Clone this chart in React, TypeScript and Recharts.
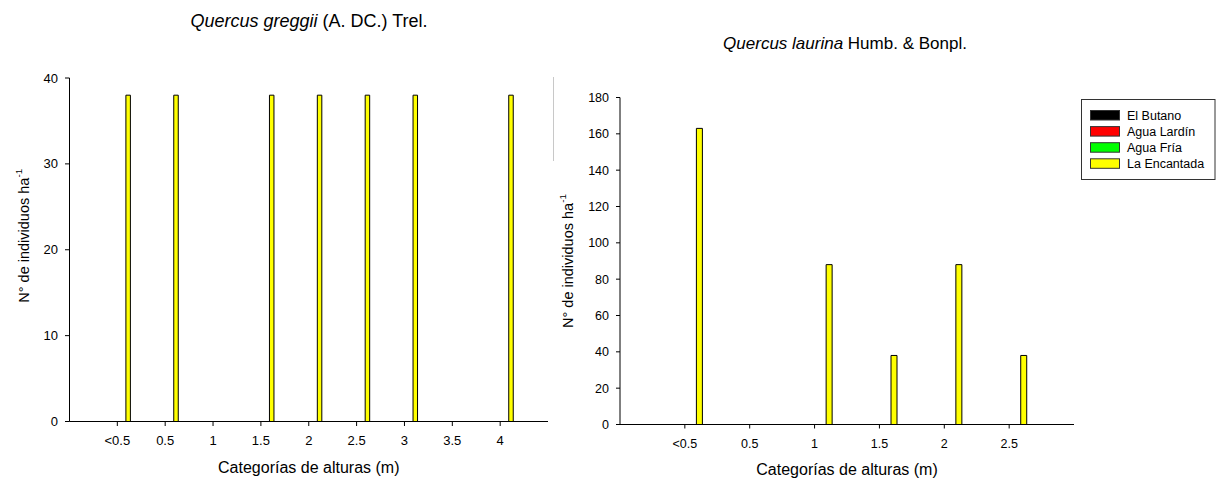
import React from 'react';
import { BarChart, Bar, XAxis, YAxis, Label } from 'recharts';

// Sampling sites (series), fills and data keys
const seriesNames = ['El Butano', 'Agua Lardín', 'Agua Fría', 'La Encantada'];
const seriesColors = ['#000000', '#FF0000', '#00FF00', '#FFFF00'];
const seriesKeys = ['butano', 'lardin', 'fria', 'encantada'];

// Quercus greggii: individuals per ha by height class
const greggiiCategories = ['<0.5', '0.5', '1', '1.5', '2', '2.5', '3', '3.5', '4'];
const greggiiButano = [0, 0, 0, 0, 0, 0, 0, 0, 0];
const greggiiLardin = [0, 0, 0, 0, 0, 0, 0, 0, 0];
const greggiiFria = [0, 0, 0, 0, 0, 0, 0, 0, 0];
const greggiiEncantada = [38, 38, 0, 38, 38, 38, 38, 0, 38];
const greggiiTicks = [0, 10, 20, 30, 40];

// Quercus laurina: individuals per ha by height class
const laurinaCategories = ['<0.5', '0.5', '1', '1.5', '2', '2.5'];
const laurinaButano = [0, 0, 0, 0, 0, 0];
const laurinaLardin = [0, 0, 0, 0, 0, 0];
const laurinaFria = [0, 0, 0, 0, 0, 0];
const laurinaEncantada = [163, 0, 88, 38, 88, 38];
const laurinaTicks = [0, 20, 40, 60, 80, 100, 120, 140, 160, 180];

const FONT = '"Liberation Sans", Arial, Helvetica, sans-serif';

function buildRows(cats: string[], cols: number[][]) {
  return cats.map((c, i) => {
    const row: Record<string, string | number> = { cat: c };
    seriesKeys.forEach((k, j) => {
      row[k] = cols[j][i];
    });
    return row;
  });
}

const greggiiData = buildRows(greggiiCategories, [greggiiButano, greggiiLardin, greggiiFria, greggiiEncantada]);
const laurinaData = buildRows(laurinaCategories, [laurinaButano, laurinaLardin, laurinaFria, laurinaEncantada]);

// Rotated y-axis title with superscript exponent
const makeYTitle = (dx: number, dy: number, size: number) => (props: any) => {
  const vb = props.viewBox || {};
  const x = vb.x + dx;
  const y = vb.y + vb.height / 2 + dy;
  return (
    <text
      x={x}
      y={y}
      transform={`rotate(-90, ${x}, ${y})`}
      textAnchor="middle"
      fontFamily={FONT}
      fontSize={size}
      fill="#000"
    >
      N° de individuos ha
      <tspan fontSize={size * 0.68} dy={-size * 0.45}>-1</tspan>
    </text>
  );
};

const makeXTitle = (dy: number, size: number) => (props: any) => {
  const vb = props.viewBox || {};
  return (
    <text
      x={vb.x + vb.width / 2}
      y={vb.y + dy}
      textAnchor="middle"
      fontFamily={FONT}
      fontSize={size}
      fill="#000"
    >
      Categorías de alturas (m)
    </text>
  );
};

type PanelProps = {
  data: Record<string, string | number>[];
  ticks: number[];
  width: number;
  height: number;
  margin: { top: number; right: number; bottom: number; left: number };
  pad: number;
  barSize: number;
  barGap: number;
  tickFont: number;
  tickSize: number;
  xTickMargin: number;
  yTitle: (p: any) => React.ReactNode;
  xTitle: (p: any) => React.ReactNode;
};

function Panel(p: PanelProps) {
  const axisStyle = { stroke: '#000', strokeWidth: 1 };
  return (
    <BarChart
      width={p.width}
      height={p.height}
      data={p.data}
      margin={p.margin}
      barSize={p.barSize}
      barGap={p.barGap}
      style={{ overflow: 'visible' }}
    >
      <XAxis
        dataKey="cat"
        interval={0}
        height={30}
        padding={{ left: p.pad, right: p.pad }}
        axisLine={axisStyle}
        tickLine={axisStyle}
        tickSize={p.tickSize}
        tickMargin={p.xTickMargin}
        tick={{ fill: '#000', fontSize: p.tickFont, fontFamily: FONT }}
      >
        <Label content={p.xTitle} />
      </XAxis>
      <YAxis
        width={40}
        domain={[p.ticks[0], p.ticks[p.ticks.length - 1]]}
        ticks={p.ticks}
        interval={0}
        axisLine={axisStyle}
        tickLine={axisStyle}
        tickSize={p.tickSize}
        tickMargin={7}
        tick={{ fill: '#000', fontSize: p.tickFont, fontFamily: FONT }}
      >
        <Label content={p.yTitle} />
      </YAxis>
      {seriesKeys.map((k, i) => (
        <Bar
          key={k}
          dataKey={k}
          name={seriesNames[i]}
          fill={seriesColors[i]}
          stroke="#000"
          strokeWidth={1}
          isAnimationActive={false}
        />
      ))}
    </BarChart>
  );
}

export default function App() {
  return (
    <div style={{ position: 'absolute', left: 0, top: 0, width: 1222, height: 479, background: '#fff', overflow: 'hidden' }}>
      <div style={{ position: 'absolute', left: 0, top: 0 }}>
        <Panel
          data={greggiiData}
          ticks={greggiiTicks}
          width={600}
          height={479}
          margin={{ top: 78, right: 52, bottom: 27.5, left: 29.5 }}
          pad={23.9}
          barSize={4.5}
          barGap={3}
          tickFont={13}
          tickSize={4.5}
          xTickMargin={10}
          yTitle={makeYTitle(-1, -14, 14.5)}
          xTitle={makeXTitle(51.5, 16)}
        />
      </div>
      <div style={{ position: 'absolute', left: 530, top: 0 }}>
        <Panel
          data={laurinaData}
          ticks={laurinaTicks}
          width={692}
          height={479}
          margin={{ top: 97.5, right: 148, bottom: 24.5, left: 50 }}
          pad={32.4}
          barSize={6}
          barGap={4}
          tickFont={12.5}
          tickSize={4}
          xTickMargin={11}
          yTitle={makeYTitle(-7, 0, 14.5)}
          xTitle={makeXTitle(50, 16)}
        />
      </div>
      <svg
        width={1222}
        height={479}
        style={{ position: 'absolute', left: 0, top: 0, pointerEvents: 'none' }}
        fontFamily={FONT}
      >
        <text x={309} y={27} textAnchor="middle" fontSize={18} fill="#000">
          <tspan fontStyle="italic">Quercus greggii</tspan> (A. DC.) Trel.
        </text>
        <text x={845} y={49} textAnchor="middle" fontSize={17} fill="#000">
          <tspan fontStyle="italic">Quercus laurina</tspan> Humb. &amp; Bonpl.
        </text>
        <line x1={553.5} y1={77} x2={553.5} y2={161} stroke="#c8c8c8" strokeWidth={1} />
        <rect x={1081.5} y={99.5} width={133.5} height={80} fill="#fff" stroke="#333" strokeWidth={1} />
        {seriesNames.map((name, i) => (
          <g key={name}>
            <rect x={1090.5} y={110.5 + i * 16.1} width={29} height={9.5} fill={seriesColors[i]} stroke="#333" strokeWidth={1} />
            <text x={1127} y={119.5 + i * 16.1} fontSize={12.5} fill="#000">
              {name}
            </text>
          </g>
        ))}
      </svg>
    </div>
  );
}
